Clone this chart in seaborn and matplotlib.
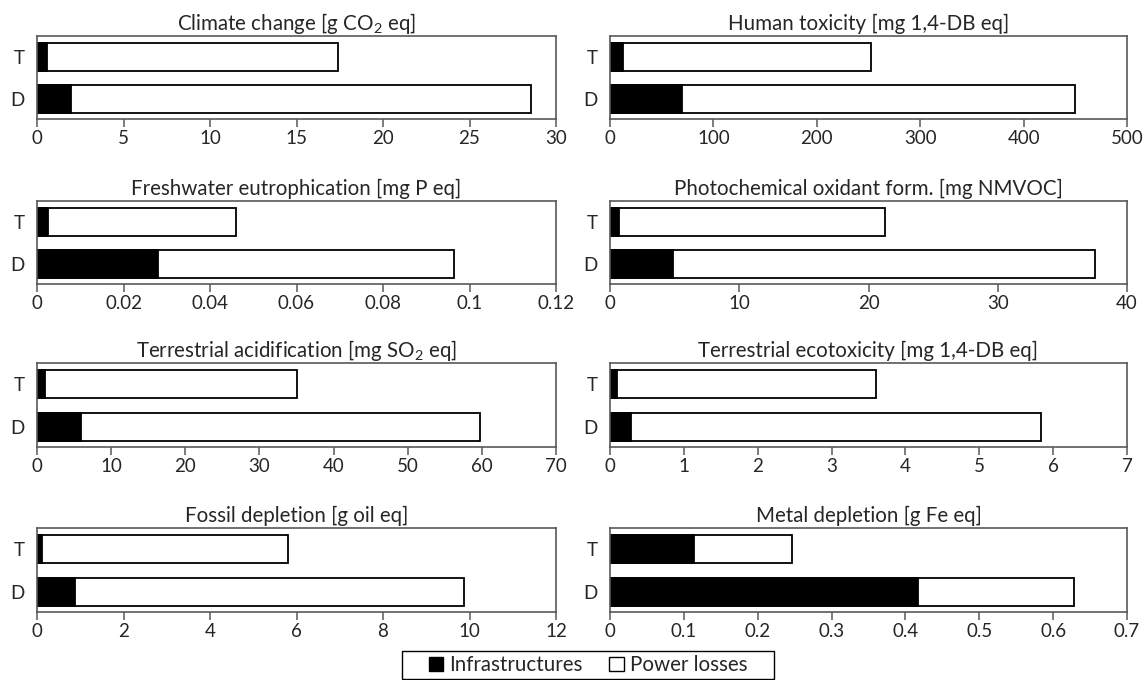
import matplotlib
matplotlib.use("Agg")
import matplotlib.pyplot as plt
from matplotlib.patches import Patch, Rectangle
import pandas as pd
import seaborn as sns

# Impact categories (panel titles) and axis limits
titles = [
    r"Climate change [g CO$_\mathregular{2}$ eq]",
    "Human toxicity [mg 1,4-DB eq]",
    "Freshwater eutrophication [mg P eq]",
    "Photochemical oxidant form. [mg NMVOC]",
    r"Terrestrial acidification [mg SO$_\mathregular{2}$ eq]",
    "Terrestrial ecotoxicity [mg 1,4-DB eq]",
    "Fossil depletion [g oil eq]",
    "Metal depletion [g Fe eq]",
]
x_max = [30, 500, 0.12, 40, 70, 7, 12, 0.7]
x_step = [5, 100, 0.02, 10, 10, 1, 2, 0.1]

systems = ["T", "D"]

# Contributions per system (T, D)
infrastructures = [
    [0.59, 1.94],
    [12.4, 69.4],
    [0.0026, 0.0279],
    [0.73, 4.9],
    [1.08, 5.9],
    [0.094, 0.287],
    [0.12, 0.89],
    [0.114, 0.4165],
]
power_losses = [
    [16.80, 26.62],
    [240.1, 380.0],
    [0.0434, 0.0686],
    [20.57, 32.6],
    [34.02, 53.8],
    [3.506, 5.553],
    [5.69, 8.99],
    [0.133, 0.2115],
]

sns.set_theme(style="white")
plt.rcParams["font.family"] = ["Lato", "DejaVu Sans"]
plt.rcParams["mathtext.fontset"] = "custom"
plt.rcParams["mathtext.rm"] = "Lato"

W, H = 1146, 680
fig = plt.figure(figsize=(W / 100, H / 100), dpi=100)

col_px = [(37, 556), (610, 1127)]
row_px = [(36, 119), (201, 284), (363, 447), (528, 612)]
frame_color = "#595959"

for i, title in enumerate(titles):
    r, c = divmod(i, 2)
    x0, x1 = col_px[c]
    y0, y1 = row_px[r]
    ax = fig.add_axes([x0 / W, 1 - y1 / H, (x1 - x0) / W, (y1 - y0) / H])

    df = pd.DataFrame({
        "system": systems,
        "infra": infrastructures[i],
        "total": [a + b for a, b in zip(infrastructures[i], power_losses[i])],
    })
    sns.barplot(data=df, x="total", y="system", order=systems, orient="h",
                color="white", edgecolor="black", linewidth=1.3,
                width=0.67, ax=ax, saturation=1)
    sns.barplot(data=df, x="infra", y="system", order=systems, orient="h",
                color="black", edgecolor="black", linewidth=1.3,
                width=0.67, ax=ax, saturation=1)

    ax.set_xlim(0, x_max[i])
    ticks = [round(k * x_step[i], 6) for k in range(int(round(x_max[i] / x_step[i])) + 1)]
    ax.set_xticks(ticks)
    ax.set_xticklabels([f"{t:g}" for t in ticks])
    ax.set_ylim(1.476, -0.5)
    ax.set_xlabel("")
    ax.set_ylabel("")
    ax.set_title(title, fontsize=14.8, pad=4)

    for s in ax.spines.values():
        s.set_visible(True)
        s.set_color(frame_color)
        s.set_linewidth(1.2)
    ax.tick_params(axis="x", direction="out", length=6, width=1.1,
                   color=frame_color, labelsize=13.5, pad=2, bottom=True)
    ax.tick_params(axis="y", length=0, labelsize=13.5, pad=9)

handles = [
    Patch(facecolor="black", edgecolor="black", label="Infrastructures"),
    Patch(facecolor="white", edgecolor="black", label="Power losses"),
]
fig.legend(handles=handles, loc="center", bbox_to_anchor=(588 / W, 1 - 665 / H),
           ncol=2, frameon=False, fontsize=14.8,
           handlelength=0.7, handleheight=0.7, handletextpad=0.3,
           columnspacing=1.3, borderpad=0, borderaxespad=0)

# Legend frame
fig.patches.append(Rectangle((402 / W, 1 - 679 / H), 372 / W, 28 / H,
                             transform=fig.transFigure, fill=False,
                             edgecolor="black", linewidth=1.0))

fig.savefig("out.png", dpi=100)
